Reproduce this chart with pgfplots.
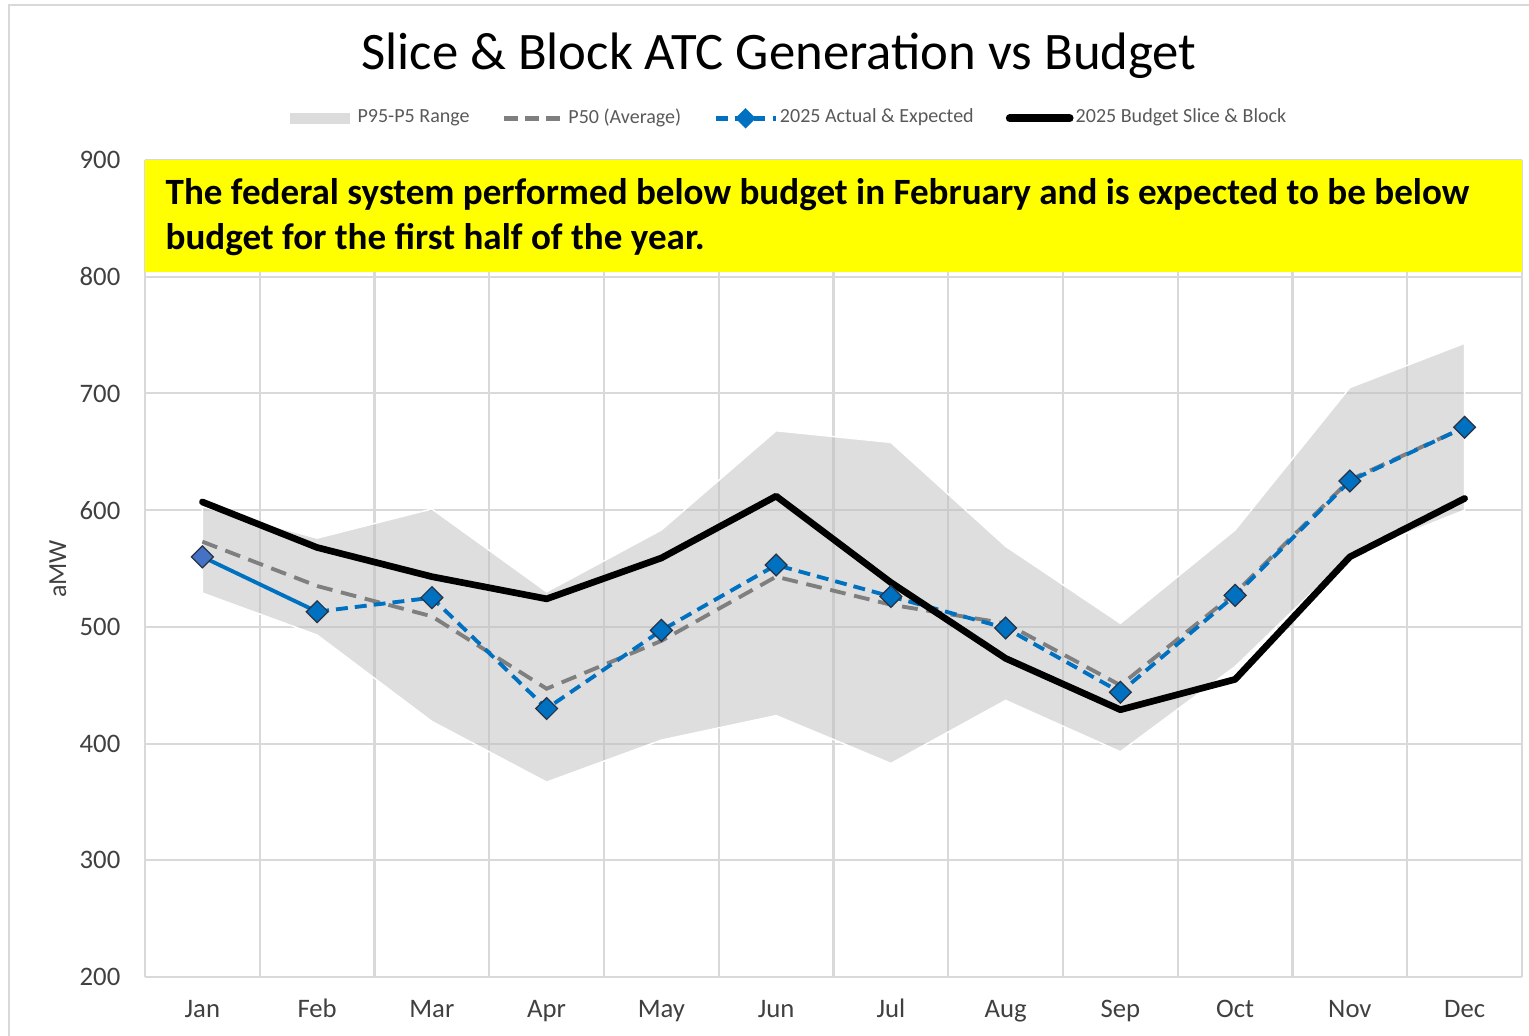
\documentclass[border=0pt]{standalone}
\usepackage{fontspec}
\setmainfont{Carlito}
\usepackage{pgfplots}
\pgfplotsset{compat=1.18}
\definecolor{gridc}{RGB}{217,217,217}
\definecolor{bluec}{RGB}{0,112,192}
\definecolor{janc}{RGB}{68,114,196}
\definecolor{p50c}{RGB}{127,127,127}
\definecolor{bandc}{RGB}{192,192,192}
\definecolor{bandleg}{RGB}{220,220,220}
\definecolor{tickc}{RGB}{64,64,64}
\definecolor{legc}{RGB}{89,89,89}
\definecolor{mkedge}{RGB}{40,50,70}
\definecolor{yell}{RGB}{255,255,0}
\begin{document}
\begin{tikzpicture}[x=0.1mm,y=0.1mm]
\useasboundingbox (0,0) rectangle (1529,1036);
\draw[gridc, line width=0.6pt] (9,0) -- (9,1031) -- (1529,1031);
\node[anchor=base, font=\fontsize{15}{18}\selectfont, inner sep=0] at (779,966) {Slice \& Block ATC Generation vs Budget};
\node[rotate=90, font=\fontsize{7.4}{8}\selectfont, text=tickc, inner sep=0] at (58,467) {aMW};
\begin{axis}[
  at={(14.5mm,5.9mm)}, anchor=south west,
  scale only axis, width=137.7mm, height=81.7mm,
  xmin=-0.5, xmax=11.5, ymin=200, ymax=900,
  xtick={0,...,11},
  xticklabels={Jan,Feb,Mar,Apr,May,Jun,Jul,Aug,Sep,Oct,Nov,Dec},
  minor xtick={-0.5,0.5,...,11.5},
  ytick={200,300,...,900},
  xminorgrids, ymajorgrids, xmajorgrids=false,
  major tick length=0pt, minor tick length=0pt,
  axis line style={draw=none},
  grid style={gridc, line width=0.6pt},
  minor grid style={gridc, line width=0.6pt},
  tick label style={font=\fontsize{7.6}{8}\selectfont, text=tickc, inner sep=0pt},
  /pgf/number format/assume math mode=true,
  yticklabel style={anchor=east, xshift=-2.4mm},
  xticklabel style={anchor=base, yshift=-4.1mm},
  legend columns=4,
  legend cell align=left,
  legend style={at={(0.466,1.051)}, anchor=center, draw=none, fill=none,
    font=\fontsize{5.7}{7}\selectfont, text=legc,
    nodes={inner sep=0.6pt},
    /tikz/every even column/.append style={column sep=3.0mm}},
]
% legend images
\addlegendimage{bandleg, line width=3pt}
\addlegendentry{P95-P5 Range}
\addlegendimage{p50c, line width=1.3pt, dash pattern=on 4pt off 2pt}
\addlegendentry{P50 (Average)}
\addlegendimage{bluec, line width=1.3pt, dash pattern=on 3.4pt off 2pt, mark=square*, mark size=1.4pt, mark options={solid, rotate=45, fill=bluec, draw=bluec}}
\addlegendentry{2025 Actual \& Expected}
\addlegendimage{black, line width=2.2pt, line cap=round}
\addlegendentry{2025 Budget Slice \& Block}

% P95-P5 band
\addplot[fill=bandc, fill opacity=0.53, draw=white, line width=0.4pt, forget plot]
  coordinates {(0,603) (1,576) (2,601) (3,530) (4,583) (5,668) (6,658) (7,569) (8,503) (9,583) (10,705) (11,743)
               (11,600) (10,561) (9,466) (8,393) (7,437) (6,383) (5,424) (4,403) (3,367) (2,419) (1,493) (0,529)} -- cycle;

% P50
\addplot[p50c, line width=1.1pt, dash pattern=on 4.5pt off 2.5pt, forget plot]
  coordinates {(0,573) (1,535) (2,509) (3,447) (4,488) (5,543) (6,519) (7,503) (8,450) (9,529) (10,626) (11,671)};

% 2025 actual (solid) and expected (dashed)
\addplot[bluec, line width=1.1pt, forget plot]
  coordinates {(0,560) (1,513)};
\addplot[bluec, line width=1.1pt, dash pattern=on 3.4pt off 2pt, forget plot]
  coordinates {(1,513) (2,525) (3,430) (4,497) (5,553) (6,526) (7,499) (8,444) (9,527) (10,625) (11,671)};

% Budget
\addplot[black, line width=1.9pt, line join=round, line cap=round, forget plot]
  coordinates {(0,607) (1,568) (2,543) (3,524) (4,559) (5,612) (6,538) (7,473) (8,429) (9,455) (10,560) (11,610)};

% markers
\addplot[only marks, mark=square*, mark size=2.2pt, mark options={solid, rotate=45, fill=janc, draw=mkedge, line width=0.35pt}, forget plot]
  coordinates {(0,560)};
\addplot[only marks, mark=square*, mark size=2.2pt, mark options={solid, rotate=45, fill=bluec, draw=mkedge, line width=0.35pt}, forget plot]
  coordinates {(1,513) (2,525) (3,430) (4,497) (5,553) (6,526) (7,499) (8,444) (9,527) (10,625) (11,671)};

% yellow annotation box
\fill[yell] (rel axis cs:0,1) rectangle (rel axis cs:1,0.863);
\node[anchor=base west, inner sep=0, font=\bfseries\fontsize{10.55}{12}\selectfont] at (rel axis cs:0.0145,0.946)
  {The federal system performed below budget in February and is expected to be below};
\node[anchor=base west, inner sep=0, font=\bfseries\fontsize{10.55}{12}\selectfont] at (rel axis cs:0.0145,0.890)
  {budget for the first half of the year.};
\end{axis}
\end{tikzpicture}
\end{document}
